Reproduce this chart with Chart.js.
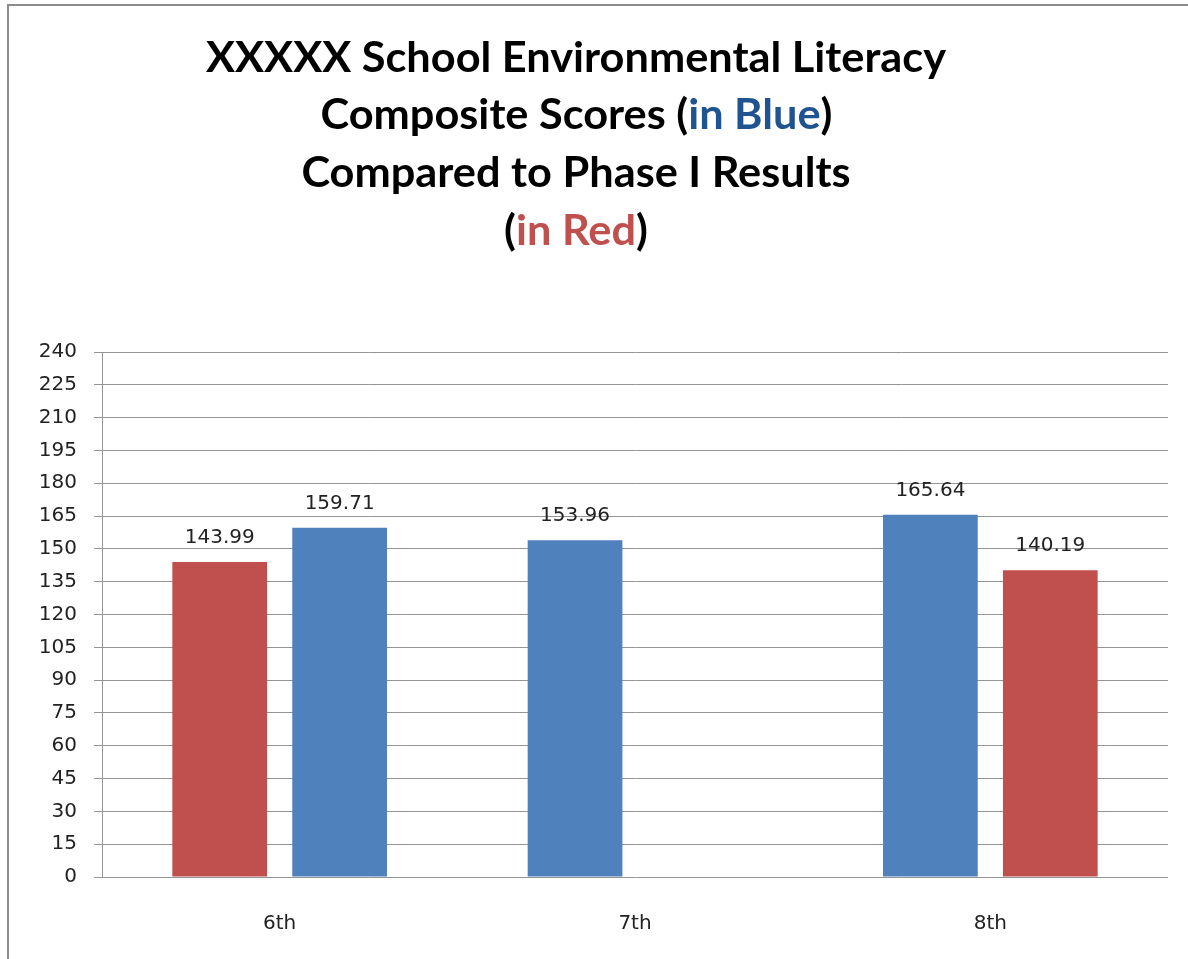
<!DOCTYPE html>
<html>
<head>
<meta charset="utf-8">
<script src="https://cdn.jsdelivr.net/npm/chart.js@4"></script>
<style>
  body { margin: 0; background: #fff; }
  #wrap { position: relative; width: 1188px; height: 959px; overflow: hidden; }
  #frame { position: absolute; left: 7px; top: 4px; width: 1300px; height: 1100px;
           border-left: 2px solid #8c8c8c; border-top: 2px solid #8c8c8c; }
  canvas { position: absolute; left: 0; top: 0; }
</style>
</head>
<body>
<div id="wrap">
  <div id="frame"></div>
  <canvas id="scoreChart" width="1188" height="959"></canvas>
</div>
<script>
const categories = ['6th', '7th', '8th'];

// bars in the left and right slot of each grade
const leftBars = [143.99, 153.96, 165.64];
const rightBars = [159.71, null, 140.19];

// which result each bar shows: composite scores or phase I
const leftSeries = ['phase1', 'composite', 'composite'];
const rightSeries = ['composite', null, 'phase1'];

const yMax = 240;
const yStep = 15;

const titleLines = [
  [['XXXXX School Environmental Literacy', 'black']],
  [['Composite Scores (', 'black'], ['in Blue', 'blue'], [')', 'black']],
  [['Compared to Phase I Results', 'black']],
  [['(', 'black'], ['in Red', 'red'], [')', 'black']]
];

const colors = { composite: '#4F81BD', phase1: '#C0504D' };
const textColors = { black: '#000000', blue: '#1F5490', red: '#C0504D' };

const titlePlugin = {
  id: 'multiTitle',
  afterDraw(chart) {
    const c = chart.ctx;
    c.save();
    c.font = 'bold 42px Lato';
    c.textBaseline = 'alphabetic';
    c.textAlign = 'left';
    const first = titleLines[0].map(s => s[0]).join('');
    const sx = 740 / c.measureText(first).width;
    const cx = 576;
    const baselines = [72, 129, 187, 245];
    titleLines.forEach((line, i) => {
      const full = line.map(s => s[0]).join('');
      const w = c.measureText(full).width;
      c.save();
      c.translate(cx, baselines[i]);
      c.scale(sx, 1);
      let x = -w / 2;
      line.forEach(seg => {
        c.fillStyle = textColors[seg[1]];
        c.fillText(seg[0], x, 0);
        x += c.measureText(seg[0]).width;
      });
      c.restore();
    });
    c.restore();
  }
};

const valueLabels = {
  id: 'valueLabels',
  afterDatasetsDraw(chart) {
    const c = chart.ctx;
    c.save();
    c.font = '20px "DejaVu Sans"';
    c.fillStyle = '#222';
    c.textAlign = 'center';
    c.textBaseline = 'alphabetic';
    chart.data.datasets.forEach((ds, i) => {
      chart.getDatasetMeta(i).data.forEach((bar, j) => {
        const v = ds.data[j];
        if (v === null) return;
        c.fillText(v.toFixed(2), bar.x, bar.y - 19);
      });
    });
    c.restore();
  }
};

new Chart(document.getElementById('scoreChart'), {
  type: 'bar',
  data: {
    labels: categories,
    datasets: [
      {
        label: 'left',
        data: leftBars,
        backgroundColor: leftSeries.map(s => s ? colors[s] : 'transparent'),
        categoryPercentage: 0.675,
        barPercentage: 0.79
      },
      {
        label: 'right',
        data: rightBars,
        backgroundColor: rightSeries.map(s => s ? colors[s] : 'transparent'),
        categoryPercentage: 0.675,
        barPercentage: 0.79
      }
    ]
  },
  options: {
    responsive: false,
    animation: false,
    layout: { padding: { top: 352, right: 20, left: 0, bottom: 0 } },
    plugins: {
      legend: { display: false },
      title: { display: false },
      tooltip: { enabled: false }
    },
    scales: {
      x: {
        grid: { display: false, drawTicks: false },
        border: { display: false },
        ticks: {
          color: '#222',
          padding: 35,
          font: { family: 'DejaVu Sans', size: 20 }
        },
        afterFit(scale) { scale.height = 82; }
      },
      y: {
        min: 0,
        max: yMax,
        ticks: {
          stepSize: yStep,
          color: '#222',
          padding: 17,
          font: { family: 'DejaVu Sans', size: 20 }
        },
        grid: { color: '#959595', lineWidth: 1, tickLength: 8 },
        border: { color: '#959595', width: 1 },
        afterFit(scale) { scale.width = 102; }
      }
    }
  },
  plugins: [titlePlugin, valueLabels]
});
</script>
</body>
</html>
